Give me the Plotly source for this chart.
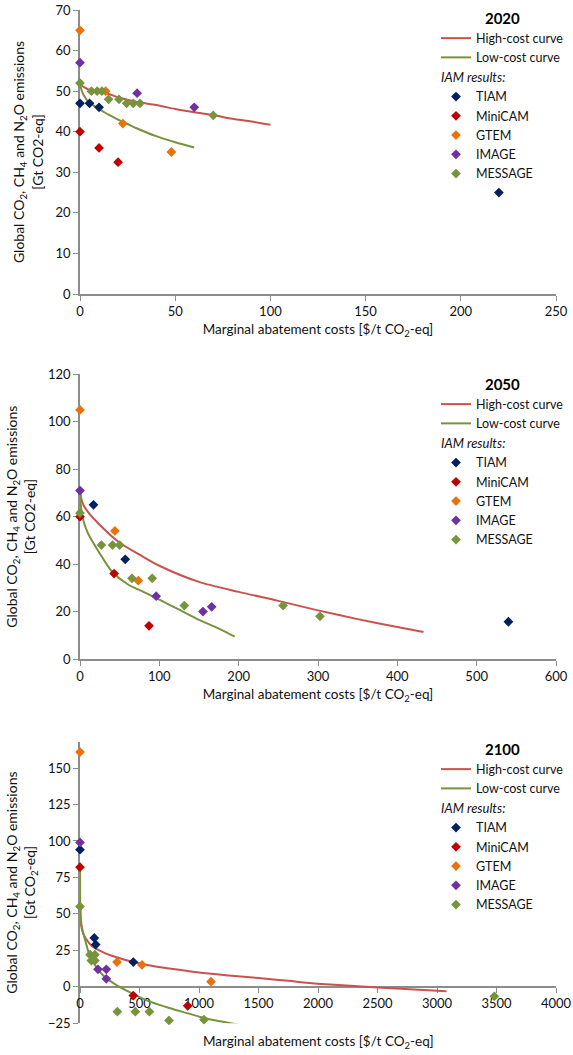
import plotly.graph_objects as go

# ---------------- 2020 ----------------
c20_high_x = [1, 5, 10, 15, 20, 30, 40, 50, 60, 70, 80, 90, 100]
c20_high_y = [51.3, 50.3, 49.8, 49.3, 48.5, 47.3, 46.6, 45.6, 44.8, 44.1, 43.2, 42.5, 41.7]
c20_low_x = [0, 0.5, 1, 2, 4, 7, 10, 15, 20, 25, 30, 40, 50, 60]
c20_low_y = [52, 50.8, 50, 49, 47.6, 46.5, 45.6, 44.2, 43, 41.9, 40.8, 38.9, 37.4, 36.1]

tiam20_x = [0, 5, 10, 220]
tiam20_y = [47, 47, 46, 25]
minicam20_x = [0, 10, 20]
minicam20_y = [40, 36, 32.5]
gtem20_x = [0, 13.5, 22.5, 48]
gtem20_y = [65, 50, 42, 35]
image20_x = [0, 30, 60]
image20_y = [57, 49.5, 46]
message20_x = [0, 6, 9, 11.5, 15, 20.5, 24.5, 28, 31.5, 70]
message20_y = [52, 50, 50, 50, 48, 48, 47, 47, 47, 44]

# ---------------- 2050 ----------------
c50_high_x = [0, 2, 5, 10, 25, 50, 75, 100, 150, 200, 250, 300, 350, 400, 433]
c50_high_y = [71, 67, 64.5, 62, 56.5, 49, 44, 39.3, 32.5, 28.3, 24.5, 20.5, 16.8, 13.5, 11.4]
c50_low_x = [0, 1, 3, 6, 10, 15, 25, 40, 60, 80, 100, 125, 150, 175, 195]
c50_low_y = [72, 65, 60, 56.5, 53, 50, 44.5, 37, 31.5, 28.3, 25, 20.8, 16.5, 12.8, 9.4]

tiam50_x = [17, 57, 540]
tiam50_y = [65, 42, 15.7]
minicam50_x = [0, 43, 87]
minicam50_y = [60, 36, 14]
gtem50_x = [0, 44, 73.5]
gtem50_y = [105, 54, 33]
image50_x = [0, 96, 155, 166]
image50_y = [71, 26.5, 20, 22]
message50_x = [0, 27, 41, 50, 65.5, 91, 131.5, 256, 302.5]
message50_y = [61.5, 48, 48, 48, 34, 34, 22.5, 22.5, 18]

# ---------------- 2100 ----------------
c100_high_x = [0, 10, 25, 50, 100, 200, 300, 450, 600, 800, 1000, 1250, 1500, 1750, 2000, 2500, 3080]
c100_high_y = [58, 42, 37, 33, 28, 23.5, 20.5, 17, 14.5, 12, 9.8, 7.8, 6, 4.1, 2.2, -0.5, -3]
c100_low_x = [0, 1, 3, 8, 15, 30, 50, 75, 100, 150, 200, 300, 400, 500, 600, 750, 900, 1050, 1200, 1330]
c100_low_y = [80, 62, 53, 46, 41.5, 36, 30, 23, 18.5, 12, 7.5, 1.5, -3, -7, -10.5, -14.5, -18, -21.5, -24, -26]

tiam100_x = [0, 120, 132, 448]
tiam100_y = [94, 33.5, 29, 17]
minicam100_x = [0, 448, 905]
minicam100_y = [82, -6, -13]
gtem100_x = [0, 311, 521, 1101]
gtem100_y = [161, 17, 15, 3.5]
image100_x = [0, 151, 221, 221]
image100_y = [99, 12, 12, 5.5]
message100_x = [0, 85, 125, 95, 125, 314, 465, 583, 748, 1042, 3482]
message100_y = [55, 22, 22, 18, 18, -17, -17, -17, -23, -22.5, -6.5]

model_names = ["TIAM", "MiniCAM", "GTEM", "IMAGE", "MESSAGE"]
model_colors = ["#002060", "#C00000", "#E8720C", "#7030A0", "#77933C"]
high_color = "#C9524F"
low_color = "#77933C"

FONT = "Lato"
AXIS_GREY = "#8C8C8C"
TEXT = "#111111"

panels = [
    dict(year="2020", high=(c20_high_x, c20_high_y), low=(c20_low_x, c20_low_y),
         models=[(tiam20_x, tiam20_y), (minicam20_x, minicam20_y), (gtem20_x, gtem20_y),
                 (image20_x, image20_y), (message20_x, message20_y)]),
    dict(year="2050", high=(c50_high_x, c50_high_y), low=(c50_low_x, c50_low_y),
         models=[(tiam50_x, tiam50_y), (minicam50_x, minicam50_y), (gtem50_x, gtem50_y),
                 (image50_x, image50_y), (message50_x, message50_y)]),
    dict(year="2100", high=(c100_high_x, c100_high_y), low=(c100_low_x, c100_low_y),
         models=[(tiam100_x, tiam100_y), (minicam100_x, minicam100_y), (gtem100_x, gtem100_y),
                 (image100_x, image100_y), (message100_x, message100_y)]),
]

fig = go.Figure()

for i, p in enumerate(panels, start=1):
    xa = "x" if i == 1 else f"x{i}"
    ya = "y" if i == 1 else f"y{i}"
    lg = "legend" if i == 1 else f"legend{i}"
    fig.add_trace(go.Scatter(x=p["high"][0], y=p["high"][1], mode="lines", name="High-cost curve",
                             line=dict(color=high_color, width=2, shape="spline", smoothing=0.8),
                             xaxis=xa, yaxis=ya,
                             legend=lg, legendgroup=f"curves{i}", hoverinfo="skip"))
    fig.add_trace(go.Scatter(x=p["low"][0], y=p["low"][1], mode="lines", name="Low-cost curve",
                             line=dict(color=low_color, width=2, shape="spline", smoothing=0.8),
                             xaxis=xa, yaxis=ya,
                             legend=lg, legendgroup=f"curves{i}", hoverinfo="skip"))
    for k, ((mx, my), nm, col) in enumerate(zip(p["models"], model_names, model_colors)):
        extra = {}
        if k == 0:
            extra["legendgrouptitle"] = dict(text="<i>IAM results:</i>",
                                             font=dict(family=FONT, size=13, color=TEXT))
        fig.add_trace(go.Scatter(x=mx, y=my, mode="markers", name=nm,
                                 marker=dict(symbol="diamond", size=7.5, color=col),
                                 xaxis=xa, yaxis=ya, legend=lg, legendgroup=f"iam{i}",
                                 cliponaxis=False, **extra))

x_dom = [80 / 573, 556 / 573]
H = 1055.0


def ydom(top_px, bottom_px):
    return [(H - bottom_px) / H, (H - top_px) / H]


axis_common = dict(showgrid=False, zeroline=False, showline=True, linecolor=AXIS_GREY,
                   linewidth=1.5, ticks="outside", ticklen=5, tickcolor=AXIS_GREY,
                   tickwidth=1.2, tickfont=dict(family=FONT, size=13, color=TEXT),
                   layer="below traces", fixedrange=True, automargin=False)

ytitle_a = "Global CO<sub>2</sub>, CH<sub>4</sub> and N<sub>2</sub>O emissions<br>[Gt CO2-eq]"
ytitle_b = "Global CO<sub>2</sub>, CH<sub>4</sub> and N<sub>2</sub>O emissions<br>[Gt CO<sub>2</sub>-eq]"
xtitle = "Marginal abatement costs [$/t CO<sub>2</sub>-eq]"
xtitle_font = dict(family=FONT, size=13.5, color=TEXT)
ytitle_font = dict(family=FONT, size=14, color=TEXT)

y3_range = [-25, 168]
d3 = ydom(741.8, 1023.3)
x3_pos = d3[0] + (0 - y3_range[0]) / (y3_range[1] - y3_range[0]) * (d3[1] - d3[0])

fig.update_layout(
    width=573, height=1055,
    margin=dict(l=0, r=0, t=0, b=0, autoexpand=False),
    paper_bgcolor="white", plot_bgcolor="white",
    showlegend=True,
    font=dict(family=FONT, color=TEXT),
    xaxis=dict(axis_common, domain=x_dom, anchor="y", range=[0, 250], dtick=50,
               title=dict(text=xtitle, font=xtitle_font, standoff=6)),
    yaxis=dict(axis_common, domain=ydom(10, 294), anchor="x", range=[0, 70], dtick=10,
               title=dict(text=ytitle_a, font=ytitle_font, standoff=9)),
    xaxis2=dict(axis_common, domain=x_dom, anchor="y2", range=[0, 600], dtick=100,
                title=dict(text=xtitle, font=xtitle_font, standoff=6)),
    yaxis2=dict(axis_common, domain=ydom(374.3, 659), anchor="x2", range=[0, 120], dtick=20,
                title=dict(text=ytitle_a, font=ytitle_font, standoff=9)),
    xaxis3=dict(axis_common, domain=x_dom, anchor="free", position=x3_pos, range=[0, 4000], dtick=500),
    yaxis3=dict(axis_common, domain=d3, anchor="x3", range=y3_range, tick0=-25, dtick=25,
                title=dict(text=ytitle_b, font=ytitle_font, standoff=9)),
)

legend_common = dict(xanchor="left", yanchor="top", bgcolor="rgba(0,0,0,0)",
                     font=dict(family=FONT, size=12.5, color=TEXT), tracegroupgap=0,
                     itemclick=False, itemdoubleclick=False)
legend_x = 436 / 573
for name, top_px, year in [("legend", 4, "2020"), ("legend2", 370, "2050"), ("legend3", 735, "2100")]:
    fig.update_layout({name: dict(legend_common, x=legend_x, y=(H - top_px) / H,
                                  title=dict(text=f"<b>{year}</b>", side="top center",
                                             font=dict(family=FONT, size=15, color="#000000")))})

fig.add_annotation(text=xtitle, xref="paper", yref="paper", x=(x_dom[0] + x_dom[1]) / 2,
                   y=(H - 1042) / H, showarrow=False, font=xtitle_font,
                   xanchor="center", yanchor="middle")

fig.write_html("out.html")
